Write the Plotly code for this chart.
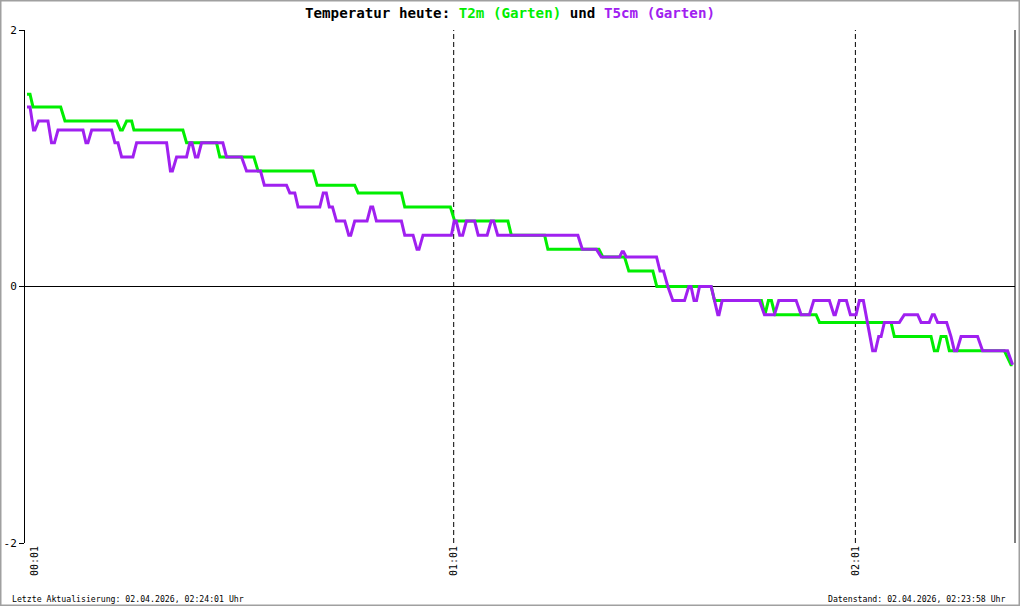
import plotly.graph_objects as go

# time in minutes after midnight (decimal), temperature in °C
t2m_time = [-2.73, -2.28, -1.84, 2.30, 2.94, 10.66, 11.22, 11.52, 12.15, 12.90, 13.24, 20.55, 21.10,
            25.58, 26.07, 31.15, 31.79, 40.00, 40.60, 46.22, 46.72, 53.19, 53.69, 60.51, 61.15,
            69.10, 69.61, 74.58, 75.07, 82.69, 83.28, 86.52, 87.16, 90.75, 91.34, 99.46, 99.96,
            106.97, 107.49, 108.01, 108.46, 108.99, 115.13, 115.63, 126.33, 126.82, 132.30, 132.79,
            133.28, 133.79, 134.54, 135.03, 143.24, 144.24, 144.48]
t2m_value = [1.50, 1.50, 1.40, 1.40, 1.29, 1.29, 1.22, 1.22, 1.29, 1.29, 1.22, 1.22, 1.12,
             1.12, 1.01, 1.01, 0.90, 0.90, 0.79, 0.79, 0.73, 0.73, 0.62, 0.62, 0.51,
             0.51, 0.40, 0.40, 0.29, 0.29, 0.23, 0.23, 0.12, 0.12, 0.00, 0.00, -0.11,
             -0.11, -0.22, -0.11, -0.11, -0.22, -0.22, -0.28, -0.28, -0.39, -0.39, -0.50,
             -0.50, -0.39, -0.39, -0.50, -0.50, -0.61, -0.61]

t5cm_time = [-2.73, -2.28, -1.76, -1.54, -1.01, 0.40, 0.93, 1.37, 1.90, 5.63, 6.07, 6.37, 6.93,
             9.91, 10.40, 10.85, 11.40, 13.09, 13.64, 18.12, 18.69, 18.99, 19.61, 21.10, 21.60,
             21.90, 22.42, 22.79, 23.34, 26.52, 27.07, 29.31, 30.06, 32.15, 32.72, 36.03, 36.52,
             37.27, 37.76, 41.00, 41.52, 41.97, 42.42, 42.90, 43.49, 44.73, 45.33, 45.63, 46.22,
             48.06, 48.61, 48.91, 49.46, 53.19, 53.69, 54.93, 55.52, 55.82, 56.42, 60.66, 61.07,
             61.37, 61.90, 62.34, 62.90, 64.13, 64.66, 66.00, 66.60, 66.97, 67.57, 79.55, 80.21,
             82.30, 83.04, 85.78, 86.15, 86.37, 86.78, 91.30, 91.82, 92.34, 92.99, 93.73, 95.48,
             96.12, 96.45, 96.90, 97.27, 97.72, 99.46, 99.96, 100.45, 100.63, 101.10, 106.67,
             107.42, 108.91, 109.55, 112.15, 112.90, 114.13, 114.78, 117.12, 117.79, 118.01,
             118.61, 119.66, 120.25, 121.10, 121.60, 122.19, 122.84, 123.58, 123.99, 124.48,
             124.84, 125.33, 127.57, 128.31, 130.30, 130.81, 132.04, 132.49, 132.79, 133.28,
             134.63, 135.28, 135.78, 136.15, 136.78, 139.25, 140.00, 143.73, 144.48]
t5cm_value = [1.40, 1.40, 1.22, 1.22, 1.29, 1.29, 1.12, 1.12, 1.22, 1.22, 1.12, 1.12, 1.22,
              1.22, 1.12, 1.12, 1.01, 1.01, 1.12, 1.12, 0.90, 0.90, 1.01, 1.01, 1.12,
              1.12, 1.01, 1.01, 1.12, 1.12, 1.01, 1.01, 0.90, 0.90, 0.79, 0.79, 0.73,
              0.73, 0.62, 0.62, 0.73, 0.73, 0.62, 0.62, 0.51, 0.51, 0.40, 0.40, 0.51,
              0.51, 0.62, 0.62, 0.51, 0.51, 0.40, 0.40, 0.29, 0.29, 0.40, 0.40, 0.51,
              0.51, 0.40, 0.40, 0.51, 0.51, 0.40, 0.40, 0.51, 0.51, 0.40, 0.40, 0.29,
              0.29, 0.23, 0.23, 0.27, 0.27, 0.23, 0.23, 0.12, 0.12, 0.00, -0.11, -0.11,
              0.00, 0.00, -0.11, -0.11, 0.00, 0.00, -0.11, -0.22, -0.22, -0.11, -0.11,
              -0.22, -0.22, -0.11, -0.11, -0.22, -0.22, -0.11, -0.11, -0.22, -0.22,
              -0.11, -0.11, -0.22, -0.22, -0.11, -0.11, -0.28, -0.50, -0.50, -0.39,
              -0.39, -0.28, -0.28, -0.22, -0.22, -0.28, -0.28, -0.22, -0.22, -0.28,
              -0.28, -0.39, -0.50, -0.50, -0.39, -0.39, -0.50, -0.50, -0.61]

x_tick_vals = [-1.54, 61, 121]
x_tick_text = ["00:01", "01:01", "02:01"]
y_tick_vals = [-2, 0, 2]
y_tick_text = ["-2", "0", "2"]
x_range = [-3.03, 144.84]
y_range = [-2, 2]

GREEN = "#00ee00"
PURPLE = "#a020f0"
FONT = "DejaVu Sans Mono"

W, H = 1020, 606
ML, MR, MT, MB = 25, 5, 30, 63
PW, PH = W - ML - MR, H - MT - MB

fig = go.Figure()
fig.add_trace(go.Scatter(x=t2m_time, y=t2m_value, mode="lines",
                         line=dict(color=GREEN, width=3), name="T2m (Garten)"))
fig.add_trace(go.Scatter(x=t5cm_time, y=t5cm_value, mode="lines",
                         line=dict(color=PURPLE, width=3), name="T5cm (Garten)"))

for xv in [61, 121]:
    fig.add_vline(x=xv, line=dict(color="black", width=1, dash="5px,3px"), layer="below")

# right border
fig.add_shape(type="line", xref="paper", yref="paper", x0=1, x1=1, y0=0, y1=1,
              line=dict(color="black", width=1))
# outer grey frame
fig.add_shape(type="rect", xref="paper", yref="paper",
              x0=-ML / PW + 0.75 / PW, x1=1 + MR / PW - 0.75 / PW,
              y0=-MB / PH + 0.75 / PH, y1=1 + MT / PH - 0.75 / PH,
              line=dict(color="#a0a0a0", width=1.5))

fig.update_layout(
    width=W, height=H,
    margin=dict(l=ML, r=MR, t=MT, b=MB),
    paper_bgcolor="white", plot_bgcolor="white",
    showlegend=False,
    font=dict(family=FONT, color="black"),
    title=dict(
        text=("<b>Temperatur heute: <span style='color:%s'>T2m (Garten)</span> und "
              "<span style='color:%s'>T5cm (Garten)</span></b>") % (GREEN, PURPLE),
        x=0.5, xref="container", xanchor="center",
        y=1 - 13 / H, yref="container", yanchor="middle",
        font=dict(family=FONT, size=14.2, color="black"),
    ),
    xaxis=dict(range=x_range, tickvals=x_tick_vals, ticktext=x_tick_text,
               tickangle=-90, showgrid=False, zeroline=False,
               showline=False, ticks="", tickfont=dict(size=10, family=FONT)),
    yaxis=dict(range=y_range, tickvals=y_tick_vals, ticktext=y_tick_text,
               showgrid=True, gridcolor="black", griddash="2px,3px", gridwidth=1,
               zeroline=True, zerolinecolor="black", zerolinewidth=1,
               showline=True, linecolor="black", linewidth=1,
               ticks="outside", ticklen=5, tickcolor="black",
               tickfont=dict(size=11, family=FONT)),
)

fig.add_annotation(text="Letzte Aktualisierung: 02.04.2026, 02:24:01 Uhr",
                   xref="paper", yref="paper", x=(10 - ML) / PW, y=(H - 599 - MB) / PH,
                   xanchor="left", yanchor="middle", showarrow=False,
                   font=dict(family=FONT, size=8.2, color="black"))
fig.add_annotation(text="Datenstand: 02.04.2026, 02:23:58 Uhr",
                   xref="paper", yref="paper", x=(1008 - ML) / PW, y=(H - 599 - MB) / PH,
                   xanchor="right", yanchor="middle", showarrow=False,
                   font=dict(family=FONT, size=8.2, color="black"))

fig.write_html("out.html", config={"displayModeBar": False},
               post_script="document.body.style.margin='0';document.body.style.overflow='hidden';")
